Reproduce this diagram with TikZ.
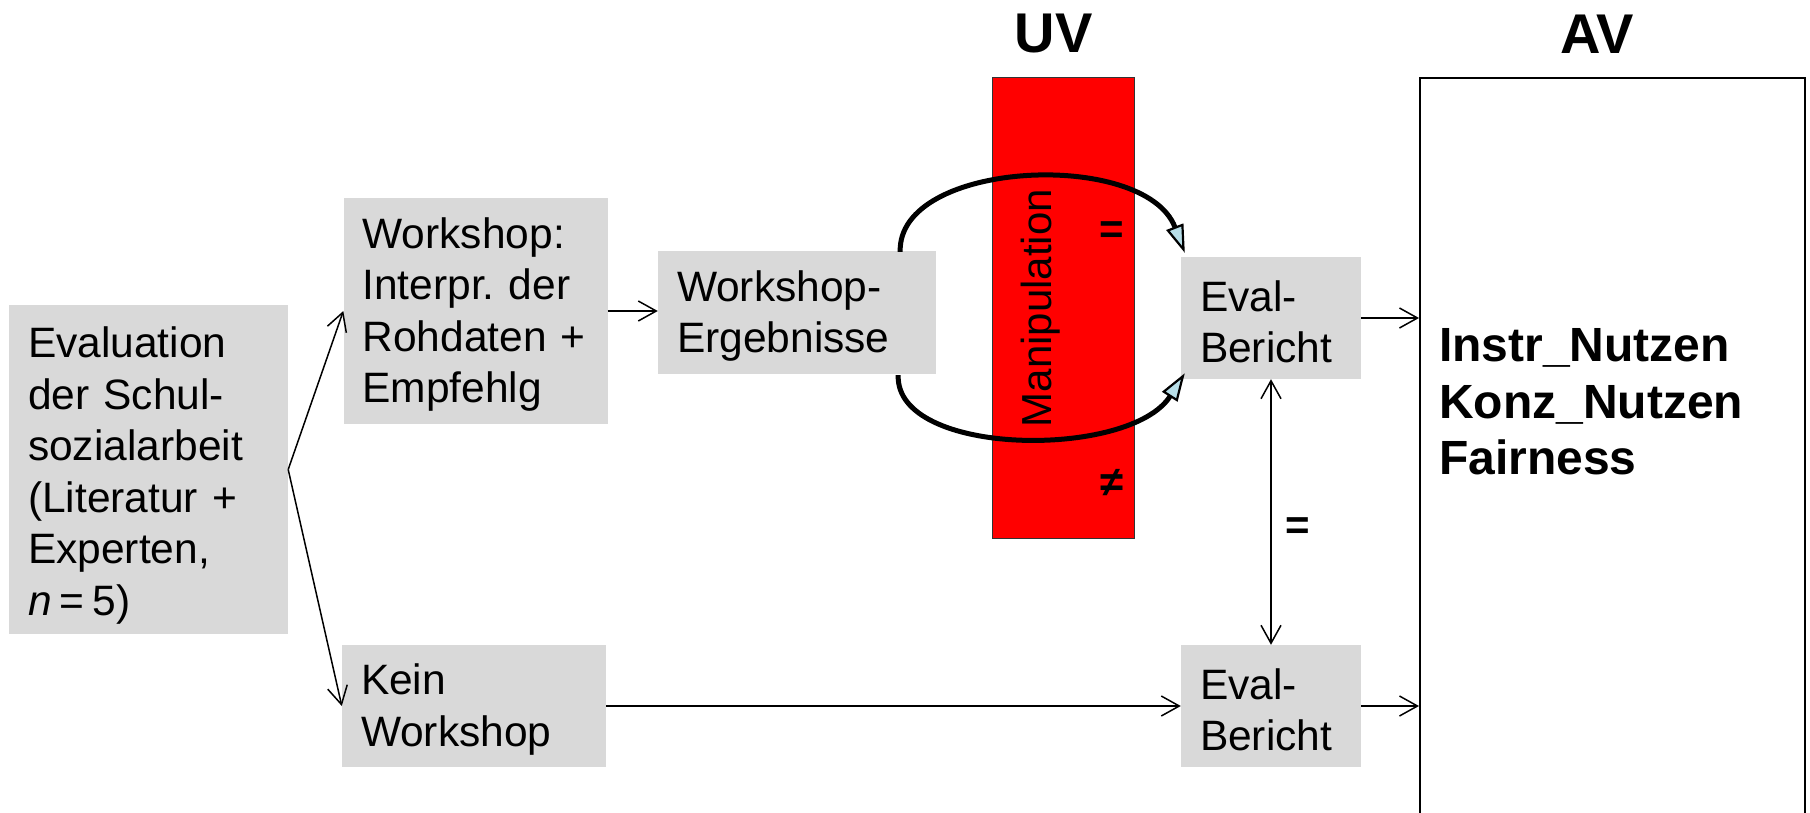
\documentclass[tikz,border=0pt]{standalone}
\usepackage{fontspec}
\setmainfont{Liberation Sans}
\usetikzlibrary{arrows.meta,calc}
\definecolor{boxgray}{HTML}{D9D9D9}
\definecolor{headblue}{HTML}{B7DEE8}
\definecolor{uvred}{HTML}{FF0000}
\frenchspacing
\begin{document}
\begin{tikzpicture}[x=1pt,y=-1pt,
  box/.style={fill=boxgray, inner xsep=19pt, inner ysep=0pt, align=left,
    font=\fontsize{42.5}{51.5}\selectfont, execute at begin node={\rule{0pt}{38pt}}},
  smallbox/.style={box, execute at begin node={\rule{0pt}{33pt}}},
  thinarrow/.style={line width=1.5pt, -{Straight Barb[length=18pt,width=20pt]}},
  thinboth/.style={line width=1.5pt, {Straight Barb[length=18pt,width=20pt]}-{Straight Barb[length=18pt,width=20pt]}},
  bigarrow/.style={line width=5pt, -{Triangle[length=28pt,width=18pt,fill=headblue,line width=2.2pt]}},
  headlabel/.style={font=\bfseries\fontsize{56}{60}\selectfont, inner sep=0pt},
  eqlabel/.style={font=\bfseries\fontsize{42}{48}\selectfont, inner sep=0pt}]
\useasboundingbox (0,0) rectangle (1810,812);

% headings
\node[headlabel] (uvlab) at (1053.5,34) {UV};
\node[headlabel] (avlab) at (1597,34) {AV};

% UV bar
\node[draw=black!80, fill=uvred, line width=1pt, minimum width=142pt, minimum height=461pt, inner sep=0pt] (uv) at (1063,307.5) {};
\node[rotate=90, font=\fontsize{42}{48}\selectfont, inner sep=0pt] (manip) at (1041,308) {Manipulation};
\node[eqlabel] (eqa) at (1112,233) {=};
\node[eqlabel] (neq) at (1112,483) {≠};

% AV box
\node[draw, line width=2pt, minimum width=385pt, minimum height=760pt, inner sep=0pt] (av) at (1612.5,458) {};
\node[anchor=north west, align=left, inner sep=0pt, font=\bfseries\fontsize{48}{56.5}\selectfont] (avtext) at (1439,328.5) {Instr\_Nutzen\\Konz\_Nutzen\\Fairness};

% boxes
\node[box, text width=241pt, minimum height=329pt, execute at begin node={\rule{0pt}{43pt}}] (eval) at (148.5,469.5)
  {Evaluation\\der Schul-\\sozialarbeit\\(Literatur +\\Experten,\\\textit{n}\hspace{8pt}=\hspace{8pt}5)};
\node[box, text width=226pt, minimum height=226pt] (ws) at (475.5,311)
  {Workshop:\\Interpr. der\\Rohdaten\ +\\Empfehlg};
\node[box, text width=240pt, minimum height=123pt] (we) at (797,312.5)
  {Workshop-\\Ergebnisse};
\node[smallbox, text width=142pt, minimum height=122pt] (eb1) at (1271,318)
  {Eval-\\Bericht};
\node[box, text width=226pt, minimum height=122pt] (kw) at (474,706)
  {Kein\\Workshop};
\node[smallbox, text width=142pt, minimum height=122pt] (eb2) at (1271,706)
  {Eval-\\Bericht};

% thin connectors
\draw[thinarrow] (eval.east) -- (ws.west);
\draw[thinarrow] (eval.east) -- (kw.west);
\draw[thinarrow] (ws.east) -- (ws.east -| we.west);
\draw[thinarrow] (eb1.east) -- (eb1.east -| av.west);
\draw[thinarrow] (kw.east) -- (eb2.west);
\draw[thinarrow] (eb2.east) -- (eb2.east -| av.west);
\draw[thinboth] (eb1.south) -- (eb2.north);
\node[eqlabel] (eqb) at (1298,529) {=};

% curved manipulation arrows
\coordinate (ts) at ($(we.north east)+(-36,1)$);
\coordinate (te) at ($(eb1.north west)+(4,-4)$);
\coordinate (bs) at ($(we.south east)+(-38,1)$);
\coordinate (be) at ($(eb1.south west)+(4,-6)$);
\draw[bigarrow] (ts) .. controls ($(ts)+(-3,-92)$) and ($(te)+(-40,-104)$) .. (te);
\draw[bigarrow] (bs) .. controls ($(bs)+(-3,82)$) and ($(be)+(-55,86)$) .. (be);
\end{tikzpicture}
\end{document}
